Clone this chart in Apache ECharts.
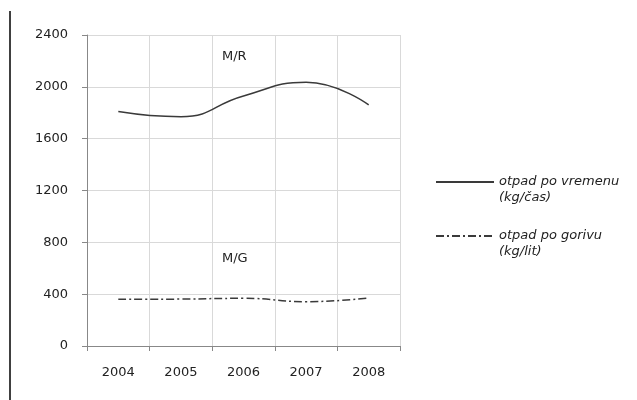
<!DOCTYPE html>
<html><head><meta charset="utf-8">
<script src="https://cdn.jsdelivr.net/npm/echarts@6/dist/echarts.min.js"></script>
<style>html,body{margin:0;padding:0;background:#fff}#c{width:637px;height:400px}</style>
</head><body><div id="c"></div>
<script>
const years = ['2004','2005','2006','2007','2008'];
const vremenu = [1810, 1770, 1930, 2035, 1860];
const gorivu = [360, 362, 368, 342, 370];
const yTicks = {min: 0, max: 2400, interval: 400};
const seriesNames = ['otpad po vremenu', 'otpad po gorivu'];
const seriesUnits = ['(kg/čas)', '(kg/lit)'];
const notes = ['M/R', 'M/G'];

const chart = echarts.init(document.getElementById('c'));
const font = '"DejaVu Sans", sans-serif';
chart.setOption({
  animation: false,
  grid: {left: 87, right: 237, top: 35, bottom: 54},
  xAxis: {
    type: 'category', data: years, boundaryGap: true,
    axisLine: {lineStyle: {color: '#888', width: 1}},
    axisTick: {show: true, length: 5, lineStyle: {color: '#888'}},
    splitLine: {show: true, lineStyle: {color: '#d9d9d9', width: 1}},
    axisLabel: {margin: 20, color: '#222', fontSize: 13, fontFamily: font}
  },
  yAxis: {
    type: 'value', min: yTicks.min, max: yTicks.max, interval: yTicks.interval,
    axisLine: {show: true, lineStyle: {color: '#888', width: 1}},
    axisTick: {show: true, length: 5, lineStyle: {color: '#888'}},
    splitLine: {show: true, lineStyle: {color: '#d9d9d9', width: 1}},
    axisLabel: {margin: 19, color: '#222', fontSize: 13, fontFamily: font,
      formatter: function (v) { return String(v); }}
  },
  legend: {
    orient: 'vertical', left: 430, top: 153, itemWidth: 58, itemHeight: 14, itemGap: 6,
    itemStyle: {opacity: 0},
    formatter: function (name) {
      const i = seriesNames.indexOf(name);
      return '\n' + name + '\n' + seriesUnits[i];
    },
    textStyle: {fontStyle: 'italic', fontSize: 13, fontFamily: font, color: '#222', lineHeight: 16}
  },
  series: [
    {name: seriesNames[0], type: 'line', data: vremenu, smooth: 0.5, symbol: 'none',
     lineStyle: {color: '#3a3a3a', width: 1.5}, itemStyle: {color: '#3a3a3a'}},
    {name: seriesNames[1], type: 'line', data: gorivu, smooth: 0.5, symbol: 'none',
     lineStyle: {color: '#3a3a3a', width: 1.5, type: [8, 3, 2, 3]}, itemStyle: {color: '#3a3a3a'}}
  ],
  graphic: [
    {type: 'line', shape: {x1: 10, y1: 11, x2: 10, y2: 400}, style: {stroke: '#000', lineWidth: 1.5}},
    {type: 'text', left: 222, top: 50, style: {text: notes[0], font: '13px ' + font, fill: '#222'}},
    {type: 'text', left: 222, top: 252, style: {text: notes[1], font: '13px ' + font, fill: '#222'}}
  ]
});
</script></body></html>
